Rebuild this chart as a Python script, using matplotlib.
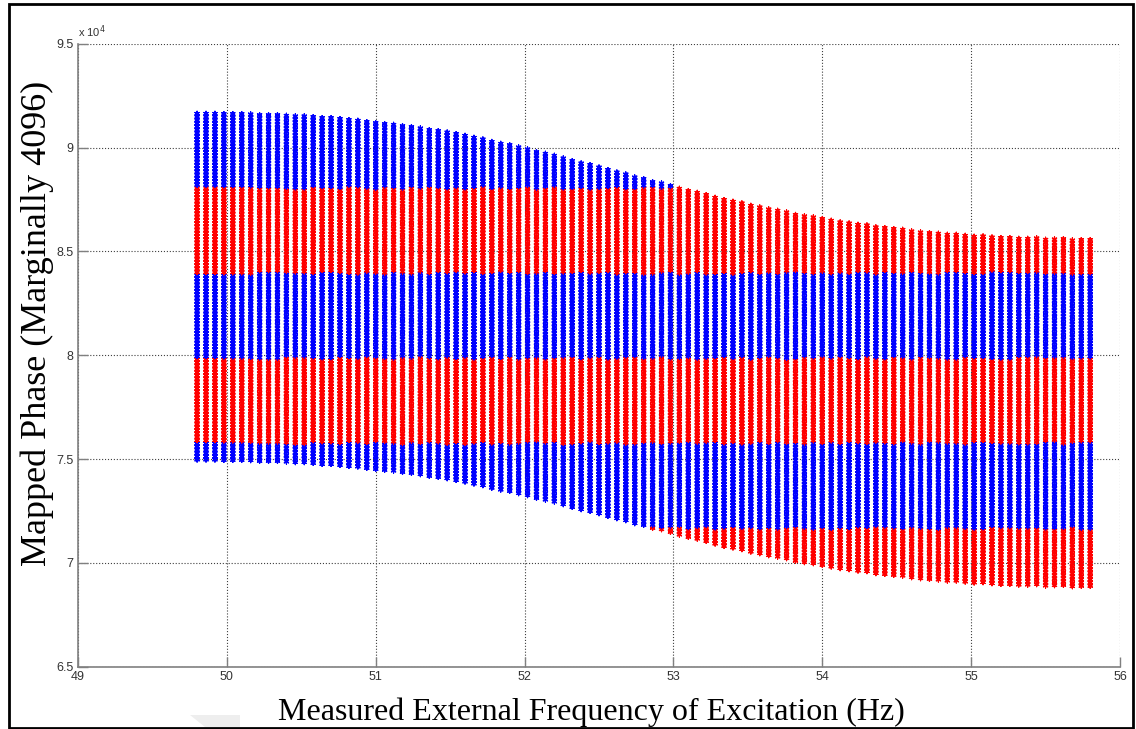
import numpy as np
import matplotlib.pyplot as plt
from matplotlib.patches import Rectangle, Polygon
from matplotlib.ticker import FuncFormatter

# excitation frequency sweep (Hz): 101 columns, 49.8 .. 55.8
freq_first = 49.8
freq_last = 55.8
n_cols = 101

# upper edge of the mapped phase band for each frequency column
phase_top = [
    91630, 91630, 91630, 91615, 91615, 91615, 91600, 91565, 91565, 91565,
    91535, 91505, 91505, 91470, 91420, 91420, 91375, 91325, 91295, 91230,
    91180, 91135, 91100, 91035, 90990, 90925, 90845, 90795, 90730, 90650,
    90570, 90475, 90395, 90275, 90185, 90120, 90010, 89915, 89785, 89705,
    89610, 89480, 89350, 89240, 89160, 89045, 88920, 88805, 88710, 88565,
    88485, 88340, 88275, 88150, 88020, 87910, 87825, 87715, 87585, 87475,
    87395, 87315, 87200, 87120, 87025, 86960, 86880, 86760, 86690, 86640,
    86560, 86480, 86400, 86350, 86285, 86255, 86160, 86125, 86080, 86045,
    85965, 85915, 85885, 85855, 85805, 85805, 85755, 85710, 85725, 85675,
    85645, 85645, 85610, 85610, 85630, 85565, 85580, 85595, 85530, 85550,
    85550,
]
# width of the phase band (same for every column)
phase_span = 16660
pts_per_col = 108

# colour bands on the phase axis (half-multiples of 4096)
band_edges = [71680, 75776, 79872, 83968, 88064]
band_colors = ['#ff0000', '#0000ff', '#ff0000', '#0000ff', '#ff0000', '#0000ff']

x_ticks = [49, 50, 51, 52, 53, 54, 55, 56]
y_ticks = [65000, 70000, 75000, 80000, 85000, 90000, 95000]

freqs = np.linspace(freq_first, freq_last, n_cols)
tops = np.array(phase_top, dtype=float)

xs, ys = [], []
for f, t in zip(freqs, tops):
    col = np.linspace(t - phase_span, t, pts_per_col)
    xs.append(np.full(pts_per_col, f))
    ys.append(col)
xs = np.concatenate(xs)
ys = np.concatenate(ys)
cols = np.array(band_colors)[np.searchsorted(band_edges, ys)]

W, H = 1136, 729
fig = plt.figure(figsize=(W / 100, H / 100), dpi=100)
ax = fig.add_axes([78 / W, 1 - 666.7 / H, (1120 - 78) / W, (666.7 - 43.7) / H])

ax.scatter(xs, ys, c=cols, marker=(6, 2, 0), s=12, linewidths=0.9, zorder=3)

ax.set_xlim(49, 56)
ax.set_ylim(65000, 95000)
ax.set_xticks(x_ticks)
ax.set_yticks(y_ticks)
ax.yaxis.set_major_formatter(FuncFormatter(lambda v, p: f'{v / 1e4:g}'))

ax.grid(True, linestyle=':', color='#404040', linewidth=0.8, zorder=0)
for s in ['top', 'right']:
    ax.spines[s].set_visible(False)
for s in ['left', 'bottom']:
    ax.spines[s].set_color('#808080')
    ax.spines[s].set_linewidth(1.2)
ax.tick_params(direction='in', length=7, width=1, color='#808080',
               labelsize=9, labelcolor='#333333', pad=3)
for lab in ax.get_xticklabels() + ax.get_yticklabels():
    lab.set_fontfamily('Liberation Sans')

fig.text(78 / W, 1 - 40 / H, r'x 10$^4$', fontsize=8, color='#333333',
         family='Liberation Sans', ha='left', va='bottom')

fig.text(591 / W, 1 - 712 / H, 'Measured External Frequency of Excitation (Hz)',
         family='Liberation Serif', fontsize=23, ha='center', va='center')
fig.text(37 / W, 1 - 323 / H, 'Mapped Phase (Marginally 4096)',
         family='Liberation Serif', fontsize=26, rotation=90,
         ha='center', va='center')

# outer frame and faint corner shape
fig.patches.append(Rectangle((9 / W, 1.5 / H), (1133 - 9) / W, (727 - 3) / H,
                             transform=fig.transFigure, fill=False,
                             edgecolor='black', linewidth=2))
fig.patches.append(Polygon([(190 / W, 1 - 715 / H), (240 / W, 1 - 715 / H),
                            (240 / W, 1 - 727 / H), (205 / W, 1 - 727 / H)],
                           closed=True, transform=fig.transFigure,
                           facecolor='#eeeeee', edgecolor='none', zorder=-1))

fig.savefig('out.png', dpi=100)
